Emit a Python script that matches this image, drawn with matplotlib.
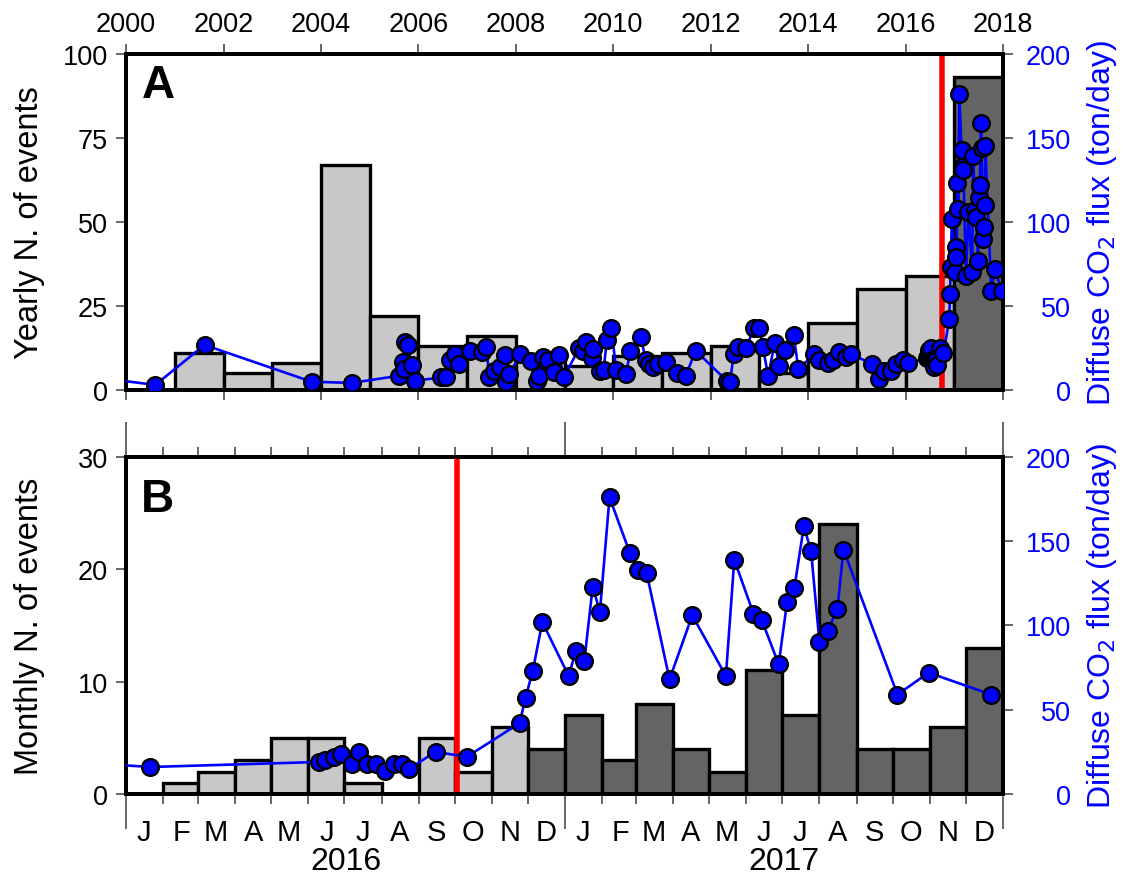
import matplotlib
matplotlib.use('Agg')
import matplotlib.pyplot as plt
import matplotlib.dates as mdates
from matplotlib.ticker import NullFormatter, FuncFormatter
from datetime import datetime, timedelta

plt.rcParams['font.family'] = ['Liberation Sans', 'DejaVu Sans']

# yearly number of events 2000-2017
years = list(range(2000, 2018))
yearly_events = [0, 11, 5, 8, 67, 22, 13, 16, 10, 7, 10, 11, 13, 5, 20, 30, 34, 93]

# monthly number of events Jan 2016 - Dec 2017
monthly_events = [0, 1, 2, 3, 5, 5, 1, 0, 5, 2, 6, 4,
                  7, 3, 8, 4, 2, 11, 7, 24, 4, 4, 6, 13]
month_letters = ['J', 'F', 'M', 'A', 'M', 'J', 'J', 'A', 'S', 'O', 'N', 'D']

# diffuse CO2 flux (ton/day), older surveys as decimal year
flux_dec_year = [1999.60, 2000.60, 2001.61, 2003.81, 2004.63, 2005.61, 2005.68, 2005.71,
                 2005.73, 2005.78, 2005.86, 2005.94, 2006.47, 2006.57, 2006.64, 2006.76,
                 2006.84, 2007.05, 2007.30, 2007.39, 2007.46, 2007.56, 2007.68, 2007.77,
                 2007.80, 2007.87, 2008.09, 2008.31, 2008.44, 2008.48, 2008.55, 2008.66,
                 2008.78, 2008.89, 2008.98, 2009.30, 2009.37, 2009.44, 2009.56, 2009.58,
                 2009.72, 2009.80, 2009.87, 2009.96, 2010.06, 2010.26, 2010.35, 2010.56,
                 2010.67, 2010.74, 2010.81, 2010.91, 2011.08, 2011.31, 2011.49, 2011.69,
                 2012.33, 2012.40, 2012.47, 2012.57, 2012.73, 2012.88, 2013.00, 2013.07,
                 2013.18, 2013.31, 2013.41, 2013.53, 2013.70, 2013.80, 2014.13, 2014.22,
                 2014.40, 2014.51, 2014.63, 2014.78, 2014.88, 2015.31, 2015.46, 2015.56,
                 2015.70, 2015.80, 2015.94]
flux_old = [6.7, 3.0, 26.8, 4.9, 4.2, 8.5, 16.8, 12.5,
            28.8, 26.8, 14.9, 5.5, 7.5, 7.5, 18.0, 21.4,
            15.5, 23.4, 22.4, 25.4, 7.5, 11.5, 13.5, 20.8,
            4.6, 9.5, 21.4, 17.4, 5.5, 8.5, 19.5, 18.0,
            10.9, 20.8, 7.5, 24.8, 23.4, 28.4, 18.8, 24.4,
            11.5, 11.9, 29.8, 36.7, 11.9, 9.5, 23.0, 31.7,
            17.9, 15.5, 13.5, 15.5, 16.5, 10.1, 8.5, 23.4,
            5.5, 4.6, 21.4, 25.4, 24.8, 36.9, 36.9, 25.4,
            8.2, 28.0, 14.5, 23.8, 32.9, 12.5, 21.4, 18.0,
            16.1, 18.0, 22.4, 19.5, 21.4, 15.5, 6.5, 11.5,
            11.5, 15.5, 18.0]

# 2016-2017 surveys
flux_dates = ['2016-01-21', '2016-06-10', '2016-06-15', '2016-06-22', '2016-06-28',
              '2016-07-07', '2016-07-13', '2016-07-20', '2016-07-27', '2016-08-04',
              '2016-08-11', '2016-08-18', '2016-08-24', '2016-09-15', '2016-10-11',
              '2016-11-24', '2016-11-29', '2016-12-05', '2016-12-13', '2017-01-04',
              '2017-01-10', '2017-01-17', '2017-01-24', '2017-01-30', '2017-02-07',
              '2017-02-24', '2017-03-03', '2017-03-10', '2017-03-29', '2017-04-17',
              '2017-05-15', '2017-05-22', '2017-06-07', '2017-06-14', '2017-06-28',
              '2017-07-05', '2017-07-11', '2017-07-19', '2017-07-25', '2017-08-01',
              '2017-08-08', '2017-08-16', '2017-08-21', '2017-10-05', '2017-10-31',
              '2017-12-22']
flux_new = [16, 19, 20, 22, 24,
            18, 25, 18, 18, 13.5,
            18, 18, 15, 25, 22,
            42, 57, 73, 102, 70,
            85, 79, 123, 108, 176,
            143, 133, 131, 68, 106,
            70, 139, 107, 103, 77,
            114, 122, 159, 144, 90,
            97, 110, 145, 59, 72,
            59]

onset = datetime(2016, 10, 3)


def dec_to_date(y):
    y0 = int(y)
    start = datetime(y0, 1, 1)
    return start + (datetime(y0 + 1, 1, 1) - start) * (y - y0)


flux_t = [dec_to_date(y) for y in flux_dec_year] + \
         [datetime.strptime(d, '%Y-%m-%d') for d in flux_dates]
flux_v = flux_old + flux_new

light = '#c8c8c8'
dark = '#646464'
blue = '#0000ff'
tick_col = '0.3'

fig = plt.figure(figsize=(11.26, 8.79), dpi=100)
axA = fig.add_axes([0.1119, 0.5552, 0.7789, 0.3823])
axB = fig.add_axes([0.1119, 0.0956, 0.7789, 0.3834])


def style(ax, ax2, ylabel):
    for a in (ax, ax2):
        for s in a.spines.values():
            s.set_linewidth(2.8)
    ax.tick_params(axis='y', direction='out', length=7, width=1.2, color=tick_col,
                   labelsize=19.5, pad=6)
    ax2.tick_params(axis='y', direction='out', length=7, width=1.2, color=tick_col,
                    labelsize=19.5, labelcolor=blue, pad=42)
    for lab in ax2.get_yticklabels():
        lab.set_horizontalalignment('right')
    ax.set_ylabel(ylabel, fontsize=23.5)
    ax.yaxis.set_label_coords(-0.092, 0.5)
    ax2.set_ylabel('Diffuse CO$_2$ flux (ton/day)', fontsize=23, color=blue)
    ax2.yaxis.set_label_coords(1.094, 0.5)


def draw_flux(ax2):
    ax2.plot(flux_t, flux_v, color=blue, lw=1.9, marker='o', ms=12,
             mfc=blue, mec='black', mew=1.7, zorder=5)
    ax2.set_ylim(0, 200)
    ax2.set_yticks([0, 50, 100, 150, 200])


# ---- panel A: yearly counts
year_start = [datetime(y, 1, 1) for y in years]
year_len = [datetime(y + 1, 1, 1) - datetime(y, 1, 1) for y in years]
colsA = [dark if y >= 2017 else light for y in years]
axA.bar(year_start, yearly_events, width=year_len, align='edge', color=colsA,
        edgecolor='black', linewidth=2.4, zorder=2)
axA.axvline(onset, color='red', lw=4, zorder=3)
axA.set_xlim(datetime(2000, 1, 1), datetime(2018, 1, 1))
axA.set_ylim(0, 100)
axA.set_yticks([0, 25, 50, 75, 100])
axA.xaxis.set_major_locator(mdates.YearLocator(2))
axA.xaxis.set_major_formatter(mdates.DateFormatter('%Y'))
axA.tick_params(axis='x', which='major', top=True, bottom=True, labeltop=True,
                labelbottom=False, direction='out', length=7, width=1.2,
                color=tick_col, labelsize=19.5, pad=5)
axA2 = axA.twinx()
draw_flux(axA2)
style(axA, axA2, 'Yearly N. of events')
axA.text(0.018, 0.872, 'A', transform=axA.transAxes, fontsize=33,
         fontweight='bold', zorder=6)

# ---- panel B: monthly counts
month_start = [datetime(2016 + i // 12, i % 12 + 1, 1) for i in range(24)]
month_end = month_start[1:] + [datetime(2018, 1, 1)]
month_len = [e - s for s, e in zip(month_start, month_end)]
colsB = [dark if m >= datetime(2016, 12, 1) else light for m in month_start]
axB.bar(month_start, monthly_events, width=month_len, align='edge', color=colsB,
        edgecolor='black', linewidth=2.4, zorder=2)
axB.axvline(onset, color='red', lw=4, zorder=3)
axB.set_xlim(datetime(2016, 1, 1), datetime(2018, 1, 1))
axB.set_ylim(0, 30)
axB.set_yticks([0, 10, 20, 30])
axB.xaxis.set_major_locator(mdates.MonthLocator())
axB.xaxis.set_major_formatter(NullFormatter())
axB.xaxis.set_minor_locator(mdates.MonthLocator(bymonthday=16))
axB.xaxis.set_minor_formatter(
    FuncFormatter(lambda x, pos: month_letters[mdates.num2date(x).month - 1]))
axB.tick_params(axis='x', which='major', top=True, bottom=True, direction='out',
                length=7, width=1.2, color=tick_col)
axB.tick_params(axis='x', which='minor', length=0, labelsize=21, pad=17)
axB2 = axB.twinx()
draw_flux(axB2)
style(axB, axB2, 'Monthly N. of events')
axB.text(0.017, 0.84, 'B', transform=axB.transAxes, fontsize=33,
         fontweight='bold', zorder=6)
for yr in (2016, 2017):
    axB.text(datetime(yr, 7, 2), -0.2, str(yr), transform=axB.get_xaxis_transform(),
             ha='center', va='center', fontsize=23)

# longer ticks at year boundaries
locs = axB.xaxis.get_majorticklocs()
for loc, tk in zip(locs, axB.xaxis.get_major_ticks(len(locs))):
    if mdates.num2date(loc).month == 1:
        tk.tick1line.set_markersize(25)
        tk.tick2line.set_markersize(25)

fig.savefig('out.png', dpi=100)
